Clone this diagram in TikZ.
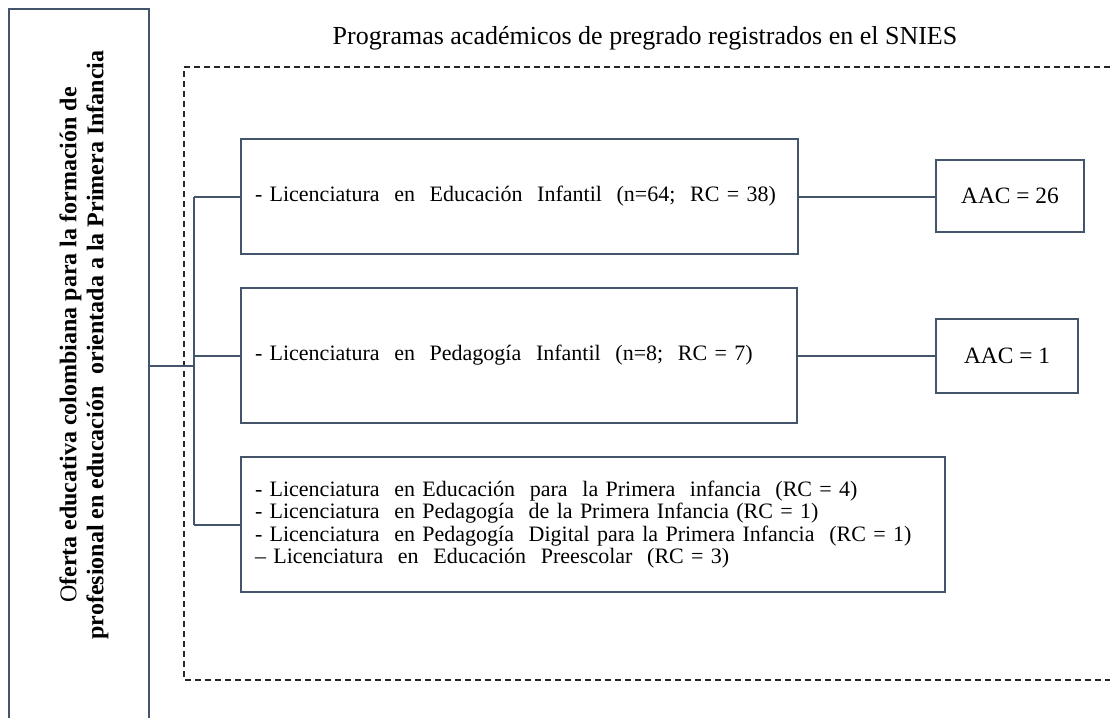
\documentclass[tikz,border=0pt]{standalone}
\usepackage{fontspec}
\setmainfont{Liberation Serif}
\usepackage{tikz}
\usetikzlibrary{positioning}
\usetikzlibrary{calc}
\definecolor{linea}{HTML}{44546A}
\tikzstyle{caja}=[rectangle,draw=linea,line width=1pt,inner ysep=0pt,inner xsep=7pt]
\tikzstyle{texto}=[font=\fontsize{11}{11.2}\selectfont]
\tikzstyle{conector}=[draw=linea,line width=1pt]
\tikzstyle{marco}=[draw=black!85,line width=0.9pt,dash pattern=on 3pt off 2pt]

\begin{document}
\begin{tikzpicture}[x=0.5pt,y=-0.5pt]

  \useasboundingbox (0,0) rectangle (1110,718);
  \clip (0,0) rectangle (1110,718);

  % marco de los programas (sigue fuera de la figura por la derecha)
  \draw[marco] (1130,67) -- (184,67) -- (184,680) -- (1130,680);
  \node[font=\fontsize{13}{15}\selectfont] (titulo) at (645,38) {Programas académicos de pregrado registrados en el SNIES};

  % caja de la izquierda, cortada por abajo
  \node[caja, minimum width=70pt, minimum height=380pt] (oferta) at (79,389) {};
  \node[rotate=90, align=center, font=\bfseries\fontsize{12}{13.5}\selectfont] (ofertatxt) at (84,345)
     {\textmd{O}ferta educativa colombiana para la formación de\\profesional en educación\ \ orientada a la Primera Infancia};

  \foreach \name/\x/\y/\w/\h/\label in {
      p1/519.5/196.5/557/115/{- Licenciatura\ \ en\ \ Educación\ \ Infantil\ \ (n=64;\ \ RC = 38)},
      p2/519/355.5/556/135/{- Licenciatura\ \ en\ \ Pedagogía\ \ Infantil\ \ (n=8;\ \ RC = 7)},
      p3/593/524.5/704/135/{- Licenciatura\ \ en Educación\ \ para\ \ la Primera\ \ infancia\ \ (RC = 4)\\
                            - Licenciatura\ \ en Pedagogía\ \ de la Primera Infancia (RC = 1)\\
                            - Licenciatura\ \ en Pedagogía\ \ Digital para la Primera Infancia\ \ (RC = 1)\\
                            – Licenciatura\ \ en\ \ Educación\ \ Preescolar\ \ (RC = 3)} }
     \node[caja, texto, align=left, text width=(\w-28)*0.5pt, minimum width=\w*0.5pt, minimum height=\h*0.5pt] (\name) at (\x,\y) {\label};

  \foreach \name/\x/\y/\w/\h/\label in {a1/1010/196/148/72/{AAC = 26}, a2/1007/356/142/74/{AAC = 1}}
     \node[caja, texto, font=\fontsize{11.7}{12}\selectfont, minimum width=\w*0.5pt, minimum height=\h*0.5pt] (\name) at (\x,\y) {\label};

  % conectores
  \coordinate (tronco) at (194,365.5);
  \draw[conector] (oferta.east |- tronco) -- (tronco);
  \draw[conector] (tronco |- p1.west) -- (tronco |- p3.west);
  \foreach \dest in {p1,p2,p3}
     \draw[conector] (tronco |- \dest.west) -- (\dest.west);
  \foreach \source/\dest in {p1/a1,p2/a2}
     \draw[conector] (\source.east) -- (\source.east -| \dest.west);

\end{tikzpicture}
\end{document}
